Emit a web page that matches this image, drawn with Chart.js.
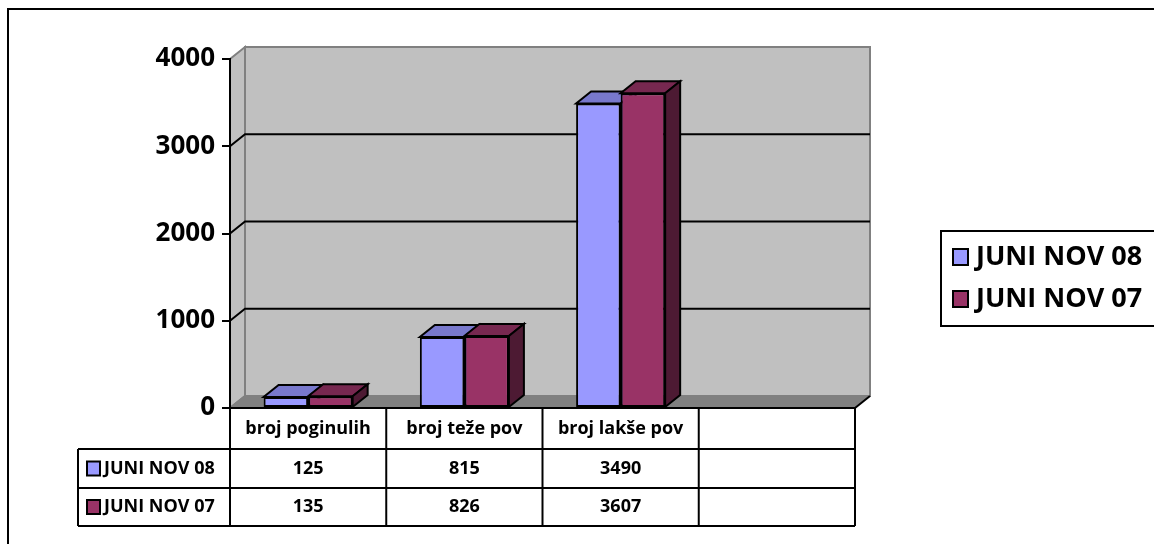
<!DOCTYPE html>
<html>
<head>
<meta charset="utf-8">
<script src="https://cdn.jsdelivr.net/npm/chart.js@4.4.0/dist/chart.umd.min.js"></script>
<style>
    body { margin: 0; background: #fff; }
    canvas { display: block; }
</style>
</head>
<body>
<canvas id="chart" width="1154" height="544"></canvas>
<script>
// data
const categories = ['broj poginulih', 'broj teže pov', 'broj lakše pov', ''];
const seriesNames = ['JUNI NOV 08', 'JUNI NOV 07'];
const valuesNov08 = [125, 815, 3490, null];
const valuesNov07 = [135, 826, 3607, null];
const yTicks = [0, 1000, 2000, 3000, 4000];

const FONT = '"Open Sans", Lato, sans-serif';
const DX = 15, DY = -12; // depth of the 3d look
const faceColors = [
    { front: '#9999ff', top: '#7878cc', side: '#5c5c99' },
    { front: '#993366', top: '#772850', side: '#4d1a33' }
];

// helper: fill + stroke a polygon
function poly(ctx, pts, fill, stroke, lw) {
    ctx.beginPath();
    ctx.moveTo(pts[0][0], pts[0][1]);
    for (let i = 1; i < pts.length; i++) ctx.lineTo(pts[i][0], pts[i][1]);
    ctx.closePath();
    if (fill) { ctx.fillStyle = fill; ctx.fill(); }
    if (stroke) { ctx.strokeStyle = stroke; ctx.lineWidth = lw || 2; ctx.stroke(); }
}

function line(ctx, pts, color, lw) {
    ctx.beginPath();
    ctx.moveTo(pts[0][0], pts[0][1]);
    for (let i = 1; i < pts.length; i++) ctx.lineTo(pts[i][0], pts[i][1]);
    ctx.strokeStyle = color;
    ctx.lineWidth = lw || 2;
    ctx.stroke();
}

const scene3d = {
    id: 'scene3d',
    // walls, floor and gridlines behind the bars
    beforeDraw(chart) {
        const ctx = chart.ctx;
        const { left, right } = chart.chartArea;
        const ys = chart.scales.y;
        const top = ys.getPixelForValue(yTicks[yTicks.length - 1]);
        const base = ys.getPixelForValue(0);
        ctx.save();
        ctx.fillStyle = '#fff';
        ctx.fillRect(0, 0, chart.width, chart.height);
        // outer border
        ctx.strokeStyle = '#000';
        ctx.lineWidth = 2;
        ctx.strokeRect(8, 9, chart.width + 20, chart.height + 20);
        // back wall
        poly(ctx, [[left + DX, top + DY], [right + DX, top + DY], [right + DX, base + DY], [left + DX, base + DY]], '#c0c0c0', '#808080', 2);
        // side wall
        poly(ctx, [[left, top], [left + DX, top + DY], [left + DX, base + DY], [left, base]], '#c0c0c0', '#808080', 2);
        // floor
        poly(ctx, [[left, base], [left + DX, base + DY], [right + DX, base + DY], [right, base]], '#808080', null);
        line(ctx, [[left, base], [left + DX, base + DY]], '#808080', 2);
        line(ctx, [[right, base], [right + DX, base + DY]], '#000', 2);
        // gridlines
        yTicks.forEach(v => {
            if (v === 0 || v === yTicks[yTicks.length - 1]) return;
            const p = ys.getPixelForValue(v);
            line(ctx, [[left, p], [left + DX, p + DY], [right + DX, p + DY]], '#000', 2);
        });
        ctx.restore();
    },
    // top and side faces of the columns
    beforeDatasetsDraw(chart) {
        const ctx = chart.ctx;
        ctx.save();
        chart.data.datasets.forEach((ds, di) => {
            const meta = chart.getDatasetMeta(di);
            meta.data.forEach((bar, i) => {
                if (ds.data[i] == null) return;
                const p = bar.getProps(['x', 'y', 'base', 'width'], true);
                const l = p.x - p.width / 2, r = p.x + p.width / 2;
                const c = faceColors[di];
                poly(ctx, [[l, p.y], [r, p.y], [r + DX, p.y + DY], [l + DX, p.y + DY]], c.top, '#000', 2);
                poly(ctx, [[r, p.y], [r + DX, p.y + DY], [r + DX, p.base + DY], [r, p.base]], c.side, '#000', 2);
            });
        });
        ctx.restore();
    },
    // data table under the chart + legend on the right
    afterDraw(chart) {
        const ctx = chart.ctx;
        const { left, right, bottom } = chart.chartArea;
        const xs = chart.scales.x;
        const colW = (right - left) / categories.length;
        const rows = [bottom, bottom + 41, bottom + 80, bottom + 118];
        const tableLeft = 78;
        const seriesValues = [valuesNov08, valuesNov07];
        ctx.save();
        line(ctx, [[left, rows[0]], [right, rows[0]]], '#000', 2);
        for (let r = 1; r < rows.length; r++) {
            line(ctx, [[tableLeft, rows[r]], [right, rows[r]]], '#000', 2);
        }
        line(ctx, [[tableLeft, rows[1]], [tableLeft, rows[3]]], '#000', 2);
        for (let i = 0; i <= categories.length; i++) {
            const x = left + i * colW;
            line(ctx, [[x, rows[0]], [x, rows[3]]], '#000', 2);
        }
        ctx.fillStyle = '#000';
        ctx.textAlign = 'center';
        ctx.textBaseline = 'middle';
        ctx.font = 'bold 18px ' + FONT;
        categories.forEach((c, i) => {
            ctx.fillText(c, xs.getPixelForValue(i), (rows[0] + rows[1]) / 2);
        });
        seriesValues.forEach((vals, si) => {
            const cy = (rows[si + 1] + rows[si + 2]) / 2;
            vals.forEach((v, i) => {
                if (v == null) return;
                ctx.fillText(String(v), xs.getPixelForValue(i), cy);
            });
        });
        // series keys in the table
        ctx.textAlign = 'left';
        ctx.strokeStyle = '#000';
        seriesNames.forEach((name, si) => {
            const cy = (rows[si + 1] + rows[si + 2]) / 2;
            ctx.fillStyle = faceColors[si].front;
            ctx.fillRect(87, cy - 7, 13, 14);
            ctx.lineWidth = 2;
            ctx.strokeRect(87, cy - 7, 13, 14);
            ctx.fillStyle = '#000';
            ctx.fillText(name, 104, cy);
        });
        // legend box
        ctx.lineWidth = 2;
        ctx.strokeRect(941, 231, 300, 95);
        ctx.font = 'bold 27px ' + FONT;
        seriesNames.forEach((name, si) => {
            const cy = 257 + si * 42;
            ctx.fillStyle = faceColors[si].front;
            ctx.fillRect(953, cy - 8, 15, 16);
            ctx.strokeRect(953, cy - 8, 15, 16);
            ctx.fillStyle = '#000';
            ctx.fillText(name, 976, cy);
        });
        ctx.restore();
    }
};

const ctx = document.getElementById('chart').getContext('2d');
new Chart(ctx, {
    type: 'bar',
    data: {
        labels: categories,
        datasets: [
            { label: seriesNames[0], data: valuesNov08, backgroundColor: faceColors[0].front },
            { label: seriesNames[1], data: valuesNov07, backgroundColor: faceColors[1].front }
        ]
    },
    options: {
        responsive: false,
        animation: false,
        devicePixelRatio: 1,
        layout: { padding: { left: 0, right: 299, top: 59, bottom: 136 } },
        datasets: {
            bar: {
                borderColor: '#000',
                borderWidth: 2,
                borderSkipped: false,
                categoryPercentage: 0.57,
                barPercentage: 1
            }
        },
        plugins: {
            legend: { display: false },
            tooltip: { enabled: false }
        },
        scales: {
            x: { display: false },
            y: {
                min: 0,
                max: 4000,
                afterFit: scale => { scale.width = 230; },
                afterBuildTicks: scale => { scale.ticks = yTicks.map(v => ({ value: v })); },
                ticks: {
                    padding: 7,
                    color: '#000',
                    font: { family: FONT, size: 26, weight: 'bold' },
                    callback: v => String(v)
                },
                grid: {
                    drawOnChartArea: false,
                    drawTicks: true,
                    tickLength: 8,
                    color: '#000',
                    lineWidth: 2
                },
                border: { display: true, color: '#000', width: 2 }
            }
        }
    },
    plugins: [scene3d]
});
</script>
</body>
</html>
